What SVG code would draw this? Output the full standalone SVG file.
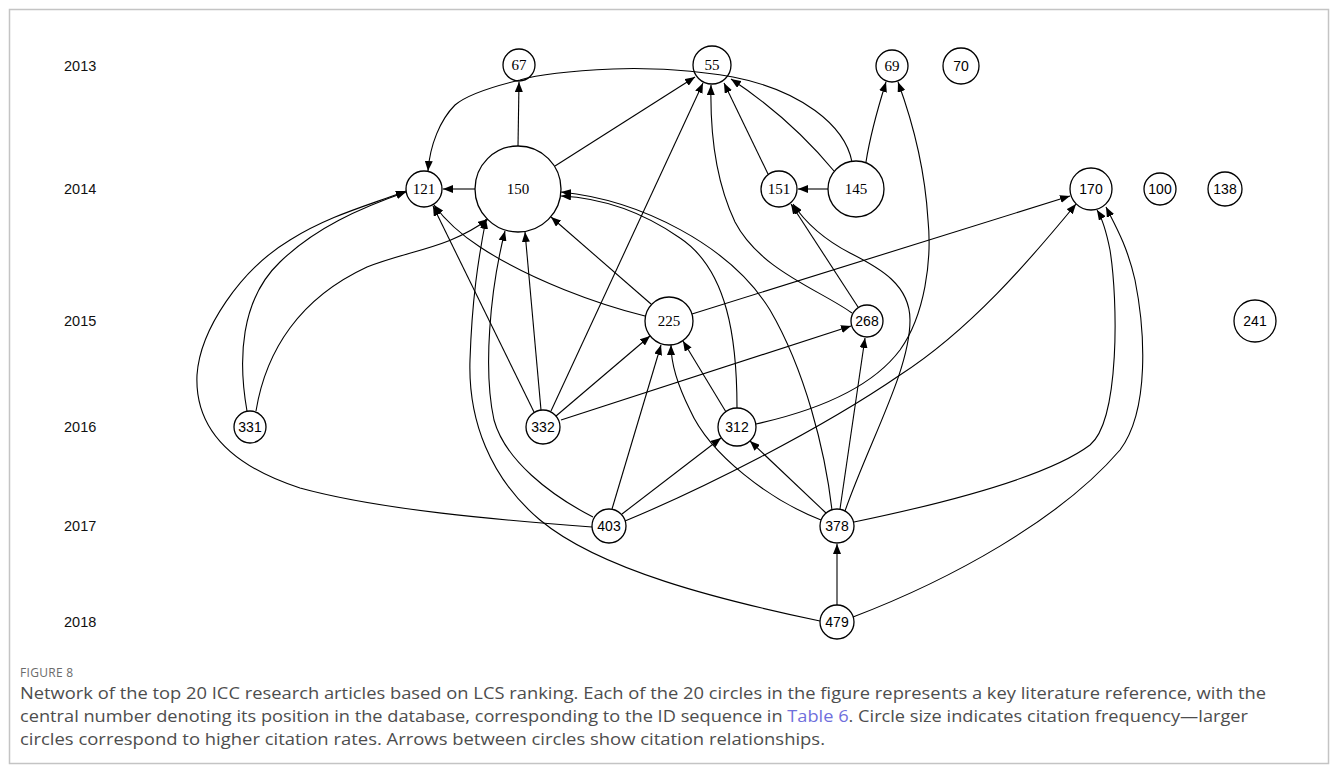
<svg xmlns="http://www.w3.org/2000/svg" width="1333" height="773" viewBox="0 0 1333 773">
<style>
.frame{fill:#fff;stroke:#c4c4c4;stroke-width:1.5}
.node circle{fill:#fff;stroke:#000;stroke-width:1.3}
.serif{font-family:"Liberation Serif","Times New Roman",serif;font-size:15px;fill:#000;text-anchor:middle}
.sans{font-family:"Liberation Sans",Arial,sans-serif;font-size:14px;fill:#000;text-anchor:middle}
.year{font-family:"Liberation Sans",Arial,sans-serif;font-size:14.5px;fill:#111}
.edges path{fill:none;stroke:#000;stroke-width:1.1;marker-end:url(#arr)}
.figlab{font-family:"Open Sans","Liberation Sans",sans-serif;font-size:12px;fill:#6b6b6b}
.cap{font-family:"Open Sans","Liberation Sans",sans-serif;font-size:15.5px;fill:#4d4d4d}
.link{fill:#6f6fdc}
</style>
<defs>
<marker id="arr" markerUnits="userSpaceOnUse" markerWidth="11" markerHeight="8" refX="10" refY="4" orient="auto">
<path d="M0,0 L10,4 L0,8 z" fill="#000"/>
</marker>
</defs>
<rect class="frame" x="9.5" y="9.5" width="1319" height="754"/>

<g id="years">
<text class="year" x="64" y="71">2013</text>
<text class="year" x="64" y="194">2014</text>
<text class="year" x="64" y="326">2015</text>
<text class="year" x="64" y="432">2016</text>
<text class="year" x="64" y="531">2017</text>
<text class="year" x="64" y="627">2018</text>
</g>

<g id="n67" class="node"><circle cx="519" cy="65" r="16"/><text class="serif" x="519" y="70">67</text></g>
<g id="n55" class="node"><circle cx="712" cy="65" r="19"/><text class="serif" x="712" y="70">55</text></g>
<g id="n69" class="node"><circle cx="892" cy="66" r="16"/><text class="serif" x="892" y="71">69</text></g>
<g id="n70" class="node"><circle cx="961" cy="66" r="18"/><text class="sans" x="961" y="71">70</text></g>
<g id="n121" class="node"><circle cx="424" cy="189" r="18"/><text class="serif" x="424" y="194">121</text></g>
<g id="n150" class="node"><circle cx="518" cy="189" r="43"/><text class="serif" x="518" y="194">150</text></g>
<g id="n151" class="node"><circle cx="779" cy="189" r="18"/><text class="serif" x="779" y="194">151</text></g>
<g id="n145" class="node"><circle cx="856" cy="189" r="28"/><text class="serif" x="856" y="194">145</text></g>
<g id="n170" class="node"><circle cx="1091" cy="189" r="21"/><text class="sans" x="1091" y="194">170</text></g>
<g id="n100" class="node"><circle cx="1160" cy="189" r="16"/><text class="sans" x="1160" y="194">100</text></g>
<g id="n138" class="node"><circle cx="1225" cy="189" r="17"/><text class="sans" x="1225" y="194">138</text></g>
<g id="n225" class="node"><circle cx="669" cy="321" r="24"/><text class="serif" x="669" y="326">225</text></g>
<g id="n268" class="node"><circle cx="867" cy="321" r="16"/><text class="sans" x="867" y="326">268</text></g>
<g id="n241" class="node"><circle cx="1255" cy="321" r="21"/><text class="sans" x="1255" y="326">241</text></g>
<g id="n331" class="node"><circle cx="250" cy="427" r="16"/><text class="sans" x="250" y="432">331</text></g>
<g id="n332" class="node"><circle cx="543" cy="427" r="17"/><text class="sans" x="543" y="432">332</text></g>
<g id="n312" class="node"><circle cx="737" cy="427" r="19"/><text class="sans" x="737" y="432">312</text></g>
<g id="n403" class="node"><circle cx="609" cy="526" r="17"/><text class="sans" x="609" y="531">403</text></g>
<g id="n378" class="node"><circle cx="837" cy="526" r="17"/><text class="sans" x="837" y="531">378</text></g>
<g id="n479" class="node"><circle cx="837" cy="622" r="17"/><text class="sans" x="837" y="627">479</text></g>

<g id="connectors" class="edges">
<path d="M518,146 L519,82"/>
<path d="M475,189 L443,189"/>
<path d="M555,166 L695,77"/>
<path d="M852,162 C845,125 800,90 733,77 C700,71 650,67 613,69 C570,71 540,74 520,80 C495,86 468,94 455,105 C440,120 430,145 428,171"/>
<path d="M834,171 Q790,118 731,79"/>
<path d="M828,189 L798,189"/>
<path d="M866,162 Q871,130 886,82"/>
<path d="M768,174 L724,83"/>
<path d="M852,313 C820,290 760,270 735,222 C715,180 710,130 711,85"/>
<path d="M858,307 L791,204"/>
<path d="M551,411 L703,83"/>
<path d="M534,412 L433,206"/>
<path d="M541,410 L525,232"/>
<path d="M556,416 L650,336"/>
<path d="M561,420 Q700,375 851,326"/>
<path d="M247,411 C238,360 240,300 280,262 C315,228 360,208 406,192"/>
<path d="M256,411 C266,350 300,298 367,267 C410,250 450,248 488,219"/>
<path d="M592,527 C500,520 380,510 300,488 C220,462 195,420 197,375 C200,330 240,270 290,240 C330,215 370,205 406,191"/>
<path d="M593,517 C550,495 505,460 494,420 C483,370 490,290 505,231"/>
<path d="M612,509 L661,345"/>
<path d="M622,514 L721,438"/>
<path d="M625,521 C700,490 820,430 900,375 C970,330 1030,260 1076,204"/>
<path d="M645,316 C600,305 530,280 480,247 C460,234 445,220 434,205"/>
<path d="M651,304 L551,217"/>
<path d="M692,314 L1070,196"/>
<path d="M726,412 L683,341"/>
<path d="M737,408 C737,340 728,270 680,238 C640,210 600,198 561,196"/>
<path d="M756,424 C810,412 870,390 900,350 C925,315 932,260 928,220 C925,170 912,120 898,82"/>
<path d="M832,510 C825,450 805,370 770,310 C730,245 640,200 561,192"/>
<path d="M821,520 C770,500 710,455 690,410 C675,380 671,360 671,345"/>
<path d="M826,513 L750,441"/>
<path d="M840,509 L865,338"/>
<path d="M845,511 C870,440 910,370 910,320 C910,285 880,268 850,253 C825,240 805,222 793,204"/>
<path d="M837,605 L837,544"/>
<path d="M854,522 C960,500 1050,475 1090,445 C1120,420 1118,300 1110,250 C1106,230 1102,218 1097,210"/>
<path d="M853,617 C950,580 1060,520 1120,450 C1150,410 1145,330 1135,280 C1127,245 1115,225 1106,207"/>
<path d="M820,621 C720,600 600,570 540,520 C490,478 468,420 470,360 C472,300 478,260 486,219"/>
</g>

<g id="caption">
<text class="figlab" x="20" y="677" letter-spacing="0.3">FIGURE 8</text>
<text class="cap" x="20" y="699" textLength="1246" lengthAdjust="spacingAndGlyphs">Network of the top 20 ICC research articles based on LCS ranking. Each of the 20 circles in the figure represents a key literature reference, with the</text>
<text class="cap" x="20" y="722" textLength="1228" lengthAdjust="spacingAndGlyphs">central number denoting its position in the database, corresponding to the ID sequence in <tspan class="link">Table 6</tspan>. Circle size indicates citation frequency—larger</text>
<text class="cap" x="20" y="745" textLength="805" lengthAdjust="spacingAndGlyphs">circles correspond to higher citation rates. Arrows between circles show citation relationships.</text>
</g>
</svg>
